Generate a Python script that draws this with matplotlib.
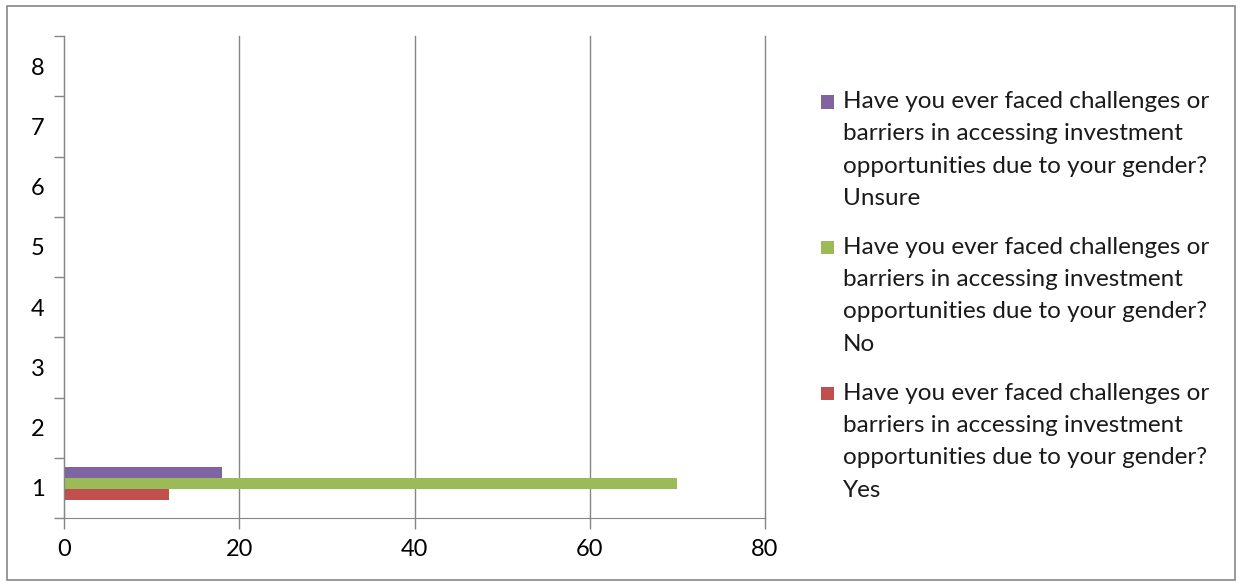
import matplotlib.pyplot as plt
from matplotlib.patches import Rectangle

plt.rcParams['font.family'] = ['Lato', 'DejaVu Sans']

# survey answers, all in category 1
categories = [1, 2, 3, 4, 5, 6, 7, 8]
question = "Have you ever faced challenges or\nbarriers in accessing investment\nopportunities due to your gender?"
answers = ["Yes", "No", "Unsure"]
values = [12, 70, 18]
colors = ["#C0504D", "#9BBB59", "#8064A2"]
offsets = [-0.105, 0.075, 0.255]
x_ticks = [0, 20, 40, 60, 80]

grey = "#868686"

fig = plt.figure(figsize=(12.39, 5.84), dpi=100)
ax = fig.add_axes([0.0517, 0.113, 0.5657, 0.825])

for ans, val, col, off in zip(answers, values, colors, offsets):
    ax.barh(categories[0] + off, val, height=0.18, color=col, label=ans)

ax.set_xlim(0, 80)
ax.set_ylim(0.5, 8.5)
ax.set_xticks(x_ticks)
ax.set_xticklabels([str(t) for t in x_ticks], fontsize=17)
ax.xaxis.grid(True, color=grey, linewidth=1)
for gl in ax.get_xgridlines():
    gl.set_clip_on(False)
ax.set_axisbelow(True)

# boundary ticks between categories, labels at the centres
ax.set_yticks([c - 0.5 for c in categories] + [8.5])
ax.set_yticklabels([])
ax.set_yticks(categories, minor=True)
ax.set_yticklabels([str(c) for c in categories], minor=True, fontsize=17)
ax.tick_params(axis='y', which='minor', length=0, pad=14)
ax.tick_params(axis='y', which='major', length=7, color=grey, width=1)
ax.tick_params(axis='x', length=8, color=grey, width=1, pad=7)

for side in ['top', 'right']:
    ax.spines[side].set_visible(False)
for side in ['left', 'bottom']:
    ax.spines[side].set_color(grey)

# legend, newest series on top
leg_y = [0.825, 0.576, 0.326]
for ans, col, y in zip(answers[::-1], colors[::-1], leg_y):
    fig.patches.append(Rectangle((0.6625, y - 0.0115), 0.011, 0.023, transform=fig.transFigure,
                                 facecolor=col, edgecolor='none'))
    fig.text(0.680, y + 0.019, question + "\n" + ans, fontsize=17.5, va='top', ha='left',
             linespacing=1.67, color='#1a1a1a')

# chart border
fig.patches.append(Rectangle((0.006, 0.006), 0.991, 0.984, transform=fig.transFigure,
                             facecolor='none', edgecolor=grey, linewidth=1.2))

fig.savefig('out.png', dpi=100)
